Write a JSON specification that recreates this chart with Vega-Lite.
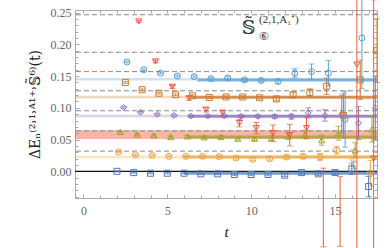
{
  "$schema": "https://vega.github.io/schema/vega-lite/v6.json",
  "width": 302,
  "height": 188,
  "autosize": "none",
  "padding": {"left": 75, "top": 10, "right": 13, "bottom": 50},
  "resolve": {"axis": {"x": "independent", "y": "independent"}},
  "config": {
    "view": {"stroke": "#aaaaaa", "strokeWidth": 1},
    "font": "Liberation Serif",
    "axis": {
      "grid": false,
      "domainColor": "#aaaaaa",
      "tickColor": "#aaaaaa",
      "tickSize": -4,
      "labelFont": "Liberation Serif",
      "labelFontSize": 12,
      "labelColor": "#666666",
      "titleFont": "Liberation Serif",
      "titleFontWeight": "normal",
      "titleColor": "#222222"
    }
  },
  "datasets": {
    "pts": [
      {"s":"n0","t":2,"v":0.0,"e":0.0008},{"s":"n0","t":3,"v":-0.002,"e":0.0008},{"s":"n0","t":4,"v":-0.003,"e":0.0009},{"s":"n0","t":5,"v":-0.003,"e":0.001},{"s":"n0","t":6,"v":-0.003,"e":0.001},{"s":"n0","t":7,"v":-0.004,"e":0.0012},{"s":"n0","t":8,"v":-0.004,"e":0.0013},{"s":"n0","t":9,"v":-0.005,"e":0.0015},{"s":"n0","t":10,"v":-0.005,"e":0.0017},{"s":"n0","t":11,"v":-0.005,"e":0.002},{"s":"n0","t":12,"v":-0.006,"e":0.002},{"s":"n0","t":13,"v":-0.002,"e":0.0022},{"s":"n0","t":14,"v":-0.004,"e":0.0025},{"s":"n0","t":15,"v":-0.002,"e":0.003},{"s":"n0","t":16,"v":0.004,"e":0.009},{"s":"n0","t":17,"v":-0.024,"e":0.016},
      {"s":"n1","t":2.1,"v":0.0305,"e":0.0012},{"s":"n1","t":3.1,"v":0.026,"e":0.0012},{"s":"n1","t":4.1,"v":0.025,"e":0.0012},{"s":"n1","t":5.1,"v":0.0236,"e":0.0013},{"s":"n1","t":6.1,"v":0.0236,"e":0.0014},{"s":"n1","t":7.1,"v":0.0236,"e":0.0015},{"s":"n1","t":8.1,"v":0.0232,"e":0.0016},{"s":"n1","t":9.1,"v":0.021,"e":0.0018},{"s":"n1","t":10.1,"v":0.0188,"e":0.002},{"s":"n1","t":11.1,"v":0.0198,"e":0.0022},{"s":"n1","t":12.1,"v":0.0224,"e":0.003},{"s":"n1","t":13.1,"v":0.0236,"e":0.0035},{"s":"n1","t":14.1,"v":0.0226,"e":0.0055},{"s":"n1","t":15.1,"v":0.033,"e":0.006},{"s":"n1","t":16.1,"v":0.0195,"e":0.015},{"s":"n1","t":17.1,"v":-0.003,"e":0.02},
      {"s":"n2","t":2.2,"v":0.062,"e":0.0012},{"s":"n2","t":3.2,"v":0.058,"e":0.0012},{"s":"n2","t":4.2,"v":0.0566,"e":0.0013},{"s":"n2","t":5.2,"v":0.054,"e":0.0014},{"s":"n2","t":6.2,"v":0.055,"e":0.0015},{"s":"n2","t":7.2,"v":0.0535,"e":0.0017},{"s":"n2","t":8.2,"v":0.054,"e":0.002},{"s":"n2","t":9.2,"v":0.0514,"e":0.0022},{"s":"n2","t":10.2,"v":0.0514,"e":0.003},{"s":"n2","t":11.2,"v":0.052,"e":0.004},{"s":"n2","t":12.2,"v":0.055,"e":0.005},{"s":"n2","t":13.2,"v":0.058,"e":0.006},{"s":"n2","t":14.2,"v":0.049,"e":0.008},{"s":"n2","t":15.2,"v":0.06,"e":0.011},{"s":"n2","t":16.2,"v":0.033,"e":0.012},{"s":"n2","t":17.2,"v":0.066,"e":0.02},
      {"s":"n3","t":3.3,"v":0.236,"e":0.0015},{"s":"n3","t":4.3,"v":0.173,"e":0.002},{"s":"n3","t":5.3,"v":0.133,"e":0.0025},{"s":"n3","t":6.3,"v":0.115,"e":0.003},{"s":"n3","t":7.3,"v":0.097,"e":0.0035},{"s":"n3","t":8.3,"v":0.092,"e":0.0045},{"s":"n3","t":9.3,"v":0.076,"e":0.006},{"s":"n3","t":10.3,"v":0.068,"e":0.009},{"s":"n3","t":11.3,"v":0.06,"e":0.013},{"s":"n3","t":12.3,"v":0.057,"e":0.017},{"s":"n3","t":13.3,"v":0.068,"e":0.017},{"s":"n3","t":14.3,"v":-0.057,"e":0.062},{"s":"n3","t":15.3,"v":-0.063,"e":0.055},{"s":"n3","t":16.3,"v":0.168,"e":0.35},{"s":"n3","t":17.3,"v":0.02,"e":0.25},
      {"s":"n4","t":2.4,"v":0.1006,"e":0.0012},{"s":"n4","t":3.4,"v":0.093,"e":0.0012},{"s":"n4","t":4.4,"v":0.0896,"e":0.0013},{"s":"n4","t":5.4,"v":0.088,"e":0.0014},{"s":"n4","t":6.4,"v":0.087,"e":0.0015},{"s":"n4","t":7.4,"v":0.087,"e":0.0016},{"s":"n4","t":8.4,"v":0.087,"e":0.0017},{"s":"n4","t":9.4,"v":0.0868,"e":0.002},{"s":"n4","t":10.4,"v":0.0865,"e":0.0022},{"s":"n4","t":11.4,"v":0.0862,"e":0.003},{"s":"n4","t":12.4,"v":0.0862,"e":0.004},{"s":"n4","t":13.4,"v":0.092,"e":0.008},{"s":"n4","t":14.4,"v":0.088,"e":0.009},{"s":"n4","t":15.4,"v":0.09,"e":0.03},{"s":"n4","t":16.4,"v":0.076,"e":0.026},{"s":"n4","t":17.4,"v":0.1,"e":0.05},
      {"s":"n5","t":2.5,"v":0.14,"e":0.0012},{"s":"n5","t":3.5,"v":0.1285,"e":0.0013},{"s":"n5","t":4.5,"v":0.123,"e":0.0013},{"s":"n5","t":5.5,"v":0.1206,"e":0.0014},{"s":"n5","t":6.5,"v":0.119,"e":0.0015},{"s":"n5","t":7.5,"v":0.1164,"e":0.0016},{"s":"n5","t":8.5,"v":0.117,"e":0.0018},{"s":"n5","t":9.5,"v":0.117,"e":0.002},{"s":"n5","t":10.5,"v":0.1158,"e":0.0022},{"s":"n5","t":11.5,"v":0.114,"e":0.003},{"s":"n5","t":12.5,"v":0.1206,"e":0.004},{"s":"n5","t":13.5,"v":0.124,"e":0.006},{"s":"n5","t":14.5,"v":0.134,"e":0.013},{"s":"n5","t":15.5,"v":0.088,"e":0.035},{"s":"n5","t":16.5,"v":0.144,"e":0.031},{"s":"n5","t":17.5,"v":0.19,"e":0.05},
      {"s":"n6","t":2.6,"v":0.172,"e":0.0012},{"s":"n6","t":3.6,"v":0.16,"e":0.0013},{"s":"n6","t":4.6,"v":0.1547,"e":0.0014},{"s":"n6","t":5.6,"v":0.15,"e":0.0015},{"s":"n6","t":6.6,"v":0.149,"e":0.0016},{"s":"n6","t":7.6,"v":0.1458,"e":0.0018},{"s":"n6","t":8.6,"v":0.147,"e":0.002},{"s":"n6","t":9.6,"v":0.144,"e":0.0022},{"s":"n6","t":10.6,"v":0.143,"e":0.0025},{"s":"n6","t":11.6,"v":0.1415,"e":0.003},{"s":"n6","t":12.6,"v":0.1547,"e":0.007},{"s":"n6","t":13.6,"v":0.157,"e":0.012},{"s":"n6","t":14.6,"v":0.1547,"e":0.02},{"s":"n6","t":15.6,"v":0.082,"e":0.044},{"s":"n6","t":16.6,"v":0.21,"e":0.08}
    ],
    "fits": [
      {"s":"n0","E":-0.003,"t0":6.0,"t1":17.5},
      {"s":"n1","E":0.0224,"t0":6.0,"t1":17.5},
      {"s":"n2","E":0.054,"t0":6.2,"t1":17.5},
      {"s":"n4","E":0.0866,"t0":6.3,"t1":17.5},
      {"s":"n5","E":0.1168,"t0":6.5,"t1":17.5},
      {"s":"n6","E":0.1437,"t0":6.8,"t1":17.5}
    ],
    "thin": [
      {"s":"n1","E":0.0224},
      {"s":"n4","E":0.087},
      {"s":"n5","E":0.1172},
      {"s":"n6","E":0.1450}
    ],
    "band": [{"s":"n3","lo":0.051,"hi":0.0645}],
    "free": [{"v":0.0318},{"v":0.0636},{"v":0.0954},{"v":0.1268},{"v":0.157},{"v":0.1875},{"v":0.2465}]
  },
  "layer": [
    {
      "data": {"name": "band"},
      "mark": {"type": "rect", "opacity": 0.45},
      "encoding": {
        "y": {"field": "lo", "type": "quantitative", "scale": {"domain": [-0.042, 0.254], "nice": false, "zero": false},
          "axis": {"orient": "left", "values": [0, 0.05, 0.1, 0.15, 0.2, 0.25], "format": ".2f", "labelPadding": 8,
            "title": "ΔEₙ⁽²˒¹˒ᴬ¹⁺˒𝕊̃⁶⁾(t)", "titleFont": "DejaVu Serif", "titleFontSize": 14, "titlePadding": 8}},
        "y2": {"field": "hi"},
        "color": {"field": "s", "type": "nominal", "legend": null,
          "scale": {"domain": ["n0","n1","n2","n3","n4","n5","n6"], "range": ["#4f79b8","#eda43c","#a3a22e","#ee5a3a","#8b6fbd","#cc7a30","#5a9fd6"]}}
      }
    },
    {
      "data": {"name": "thin"},
      "mark": {"type": "rule", "strokeWidth": 2.5, "opacity": 0.3},
      "encoding": {
        "y": {"field": "E", "type": "quantitative", "axis": null},
        "color": {"field": "s", "type": "nominal", "legend": null}
      }
    },
    {
      "data": {"name": "free"},
      "mark": {"type": "rule", "color": "#888888", "strokeWidth": 1, "strokeDash": [5, 3]},
      "encoding": {
        "y": {"field": "v", "type": "quantitative", "axis": null}
      }
    },
    {
      "data": {"values": [{"v": 0}]},
      "mark": {"type": "rule", "color": "#111111", "strokeWidth": 1.2},
      "encoding": {
        "y": {"field": "v", "type": "quantitative", "axis": null}
      }
    },
    {
      "data": {"name": "fits"},
      "mark": {"type": "rule", "strokeWidth": 3, "opacity": 0.75},
      "encoding": {
        "x": {"field": "t0", "type": "quantitative", "scale": {"domain": [-0.5, 17.5], "nice": false, "zero": false},
          "axis": {"orient": "bottom", "values": [0, 5, 10, 15], "format": "d", "labelPadding": 11,
            "title": "t", "titleFontStyle": "italic", "titleFontSize": 15, "titlePadding": 8}},
        "x2": {"field": "t1"},
        "y": {"field": "E", "type": "quantitative", "axis": null},
        "color": {"field": "s", "type": "nominal", "legend": null}
      }
    },
    {
      "data": {"name": "pts"},
      "mark": {"type": "errorbar", "ticks": {"size": 6}, "thickness": 1, "clip": false},
      "encoding": {
        "x": {"field": "t", "type": "quantitative",
          "axis": {"orient": "bottom", "values": [0,1,2,3,4,6,7,8,9,11,12,13,14,16,17], "labels": false, "domain": false, "title": null, "tickSize": -3}},
        "y": {"field": "v", "type": "quantitative",
          "axis": {"orient": "left", "values": [-0.04,-0.03,-0.02,-0.01,0.01,0.02,0.03,0.04,0.06,0.07,0.08,0.09,0.11,0.12,0.13,0.14,0.16,0.17,0.18,0.19,0.21,0.22,0.23,0.24], "labels": false, "domain": false, "title": null, "tickSize": -3}},
        "yError": {"field": "e"},
        "color": {"field": "s", "type": "nominal", "legend": null}
      }
    },
    {
      "data": {"name": "pts"},
      "mark": {"type": "point", "filled": false, "strokeWidth": 1, "size": 36, "clip": true, "opacity": 1},
      "encoding": {
        "x": {"field": "t", "type": "quantitative",
          "axis": {"orient": "top", "values": [0,1,2,3,4,5,6,7,8,9,10,11,12,13,14,15,16,17], "labels": false, "domain": false, "title": null, "tickSize": -3}},
        "y": {"field": "v", "type": "quantitative",
          "axis": {"orient": "right", "values": [-0.04,-0.03,-0.02,-0.01,0,0.01,0.02,0.03,0.04,0.05,0.06,0.07,0.08,0.09,0.1,0.11,0.12,0.13,0.14,0.15,0.16,0.17,0.18,0.19,0.2,0.21,0.22,0.23,0.24,0.25], "labels": false, "domain": false, "title": null, "tickSize": -3}},
        "color": {"field": "s", "type": "nominal", "legend": null},
        "shape": {"field": "s", "type": "nominal", "legend": null,
          "scale": {"domain": ["n0","n1","n2","n3","n4","n5","n6"], "range": ["square","circle","triangle-up","triangle-down","diamond","square","circle"]}}
      }
    },
    {
      "data": {"values": [{"t": 9.85, "v": 0.226, "txt": "𝕊̃"}]},
      "mark": {"type": "text", "fontSize": 19, "color": "#333333", "font": "DejaVu Serif"},
      "encoding": {
        "x": {"field": "t", "type": "quantitative", "axis": null},
        "y": {"field": "v", "type": "quantitative", "axis": null},
        "text": {"field": "txt"}
      }
    },
    {
      "data": {"values": [{"t": 11.65, "v": 0.239, "txt": "(2,1,A₁⁺)"}]},
      "mark": {"type": "text", "fontSize": 11, "color": "#333333"},
      "encoding": {
        "x": {"field": "t", "type": "quantitative", "axis": null},
        "y": {"field": "v", "type": "quantitative", "axis": null},
        "text": {"field": "txt"}
      }
    },
    {
      "data": {"values": [{"t": 10.75, "v": 0.211, "txt": "⑥"}]},
      "mark": {"type": "text", "fontSize": 11, "color": "#333333", "font": "DejaVu Sans"},
      "encoding": {
        "x": {"field": "t", "type": "quantitative", "axis": null},
        "y": {"field": "v", "type": "quantitative", "axis": null},
        "text": {"field": "txt"}
      }
    }
  ]
}
